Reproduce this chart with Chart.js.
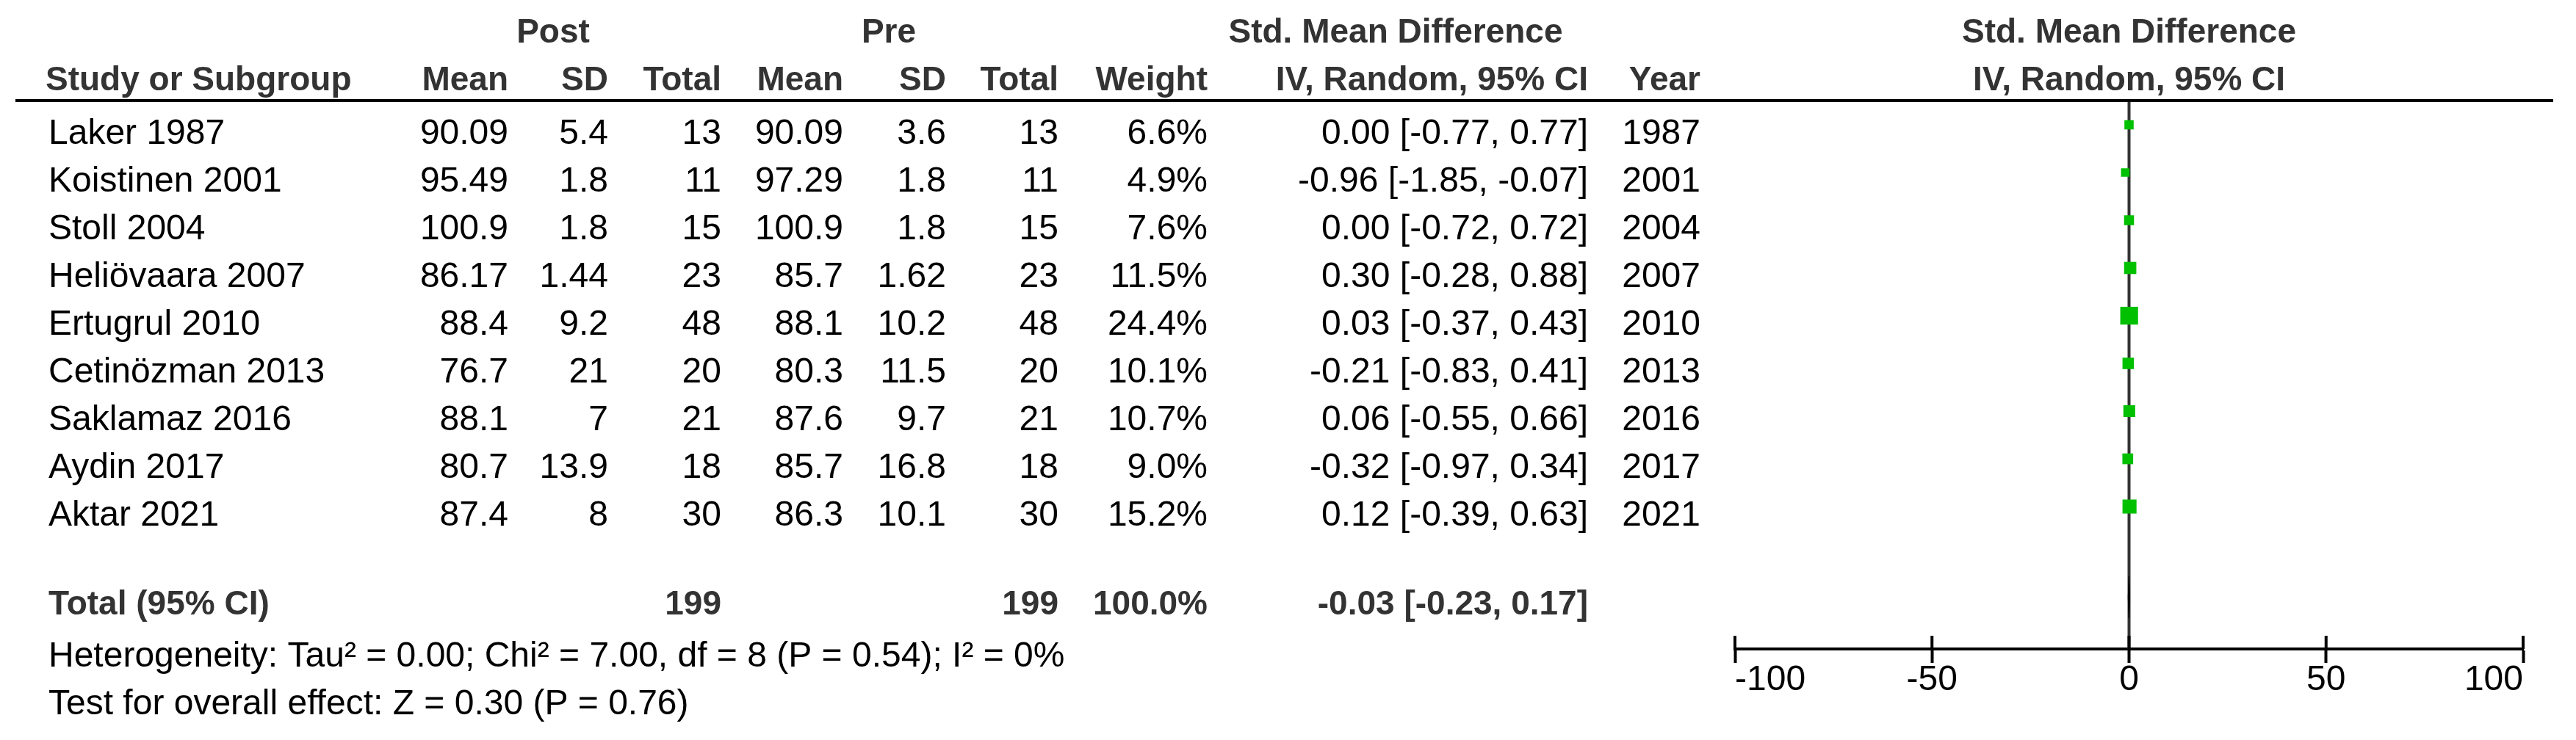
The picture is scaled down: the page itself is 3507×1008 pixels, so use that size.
<!DOCTYPE html>
<html>
<head>
<meta charset="utf-8">
<title>Forest plot - Std. Mean Difference</title>
<script src="https://cdn.jsdelivr.net/npm/chart.js@4.4.1/dist/chart.umd.min.js"></script>
<style>
  html, body { margin: 0; padding: 0; background: #fff; }
  #wrap { width: 3507px; height: 1008px; position: relative; }
</style>
</head>
<body>
<div id="wrap"><canvas id="forest"></canvas></div>
<script>
// Study data
const studies = ['Laker 1987', 'Koistinen 2001', 'Stoll 2004', 'Heliövaara 2007', 'Ertugrul 2010',
                 'Cetinözman 2013', 'Saklamaz 2016', 'Aydin 2017', 'Aktar 2021'];
const postMean = [90.09, 95.49, 100.9, 86.17, 88.4, 76.7, 88.1, 80.7, 87.4];
const postSD = [5.4, 1.8, 1.8, 1.44, 9.2, 21, 7, 13.9, 8];
const postTotal = [13, 11, 15, 23, 48, 20, 21, 18, 30];
const preMean = [90.09, 97.29, 100.9, 85.7, 88.1, 80.3, 87.6, 85.7, 86.3];
const preSD = [3.6, 1.8, 1.8, 1.62, 10.2, 11.5, 9.7, 16.8, 10.1];
const preTotal = [13, 11, 15, 23, 48, 20, 21, 18, 30];
const weights = [6.6, 4.9, 7.6, 11.5, 24.4, 10.1, 10.7, 9.0, 15.2];
const smd = [0.00, -0.96, 0.00, 0.30, 0.03, -0.21, 0.06, -0.32, 0.12];
const ciLow = [-0.77, -1.85, -0.72, -0.28, -0.37, -0.83, -0.55, -0.97, -0.39];
const ciHigh = [0.77, -0.07, 0.72, 0.88, 0.43, 0.41, 0.66, 0.34, 0.63];
const years = [1987, 2001, 2004, 2007, 2010, 2013, 2016, 2017, 2021];

// Pooled result
const totalPost = 199;
const totalPre = 199;
const totalWeight = 100.0;
const totalSmd = -0.03;
const totalLow = -0.23;
const totalHigh = 0.17;
const heterogeneity = 'Heterogeneity: Tau² = 0.00; Chi² = 7.00, df = 8 (P = 0.54); I² = 0%';
const overallTest = 'Test for overall effect: Z = 0.30 (P = 0.76)';

const xTicks = [-100, -50, 0, 50, 100];

// Row layout (in row units on the y scale)
const totalRow = 9.9;
const hetRow = 10.95;
const testRow = 11.95;

const GREEN = '#00c000';
const FONT = '"Liberation Sans", Arial, sans-serif';

function squareSide(w) {
    return Math.max(11.5, 4.9 * Math.sqrt(w));
}

function ciText(m, lo, hi) {
    return m.toFixed(2) + ' [' + lo.toFixed(2) + ', ' + hi.toFixed(2) + ']';
}

// Confidence interval lines, one dataset per study
const ciSets = studies.map((s, i) => ({
    label: 'CI ' + s,
    data: [{ x: ciLow[i], y: i }, { x: ciHigh[i], y: i }],
    showLine: true,
    borderColor: '#333',
    borderWidth: 3,
    pointRadius: 0,
    order: 2
}));

const squareSet = {
    label: 'SMD',
    data: smd.map((v, i) => ({ x: v, y: i })),
    pointStyle: 'rect',
    pointRadius: c => squareSide(weights[c.dataIndex]) / Math.SQRT2,
    pointHoverRadius: c => squareSide(weights[c.dataIndex]) / Math.SQRT2,
    backgroundColor: GREEN,
    pointBorderWidth: 0,
    order: 1
};

const diamondSet = {
    label: 'Total',
    data: [
        { x: totalLow, y: totalRow },
        { x: totalSmd, y: totalRow - 0.44 },
        { x: totalHigh, y: totalRow },
        { x: totalSmd, y: totalRow + 0.44 },
        { x: totalLow, y: totalRow }
    ],
    showLine: true,
    fill: 'shape',
    borderColor: '#000',
    backgroundColor: '#000',
    borderWidth: 1,
    pointRadius: 0,
    order: 0
};

// Zero line and upper half of the axis ticks
const referencePlugin = {
    id: 'reference',
    beforeDatasetsDraw(chart) {
        const { ctx, chartArea, scales } = chart;
        const x0 = scales.x.getPixelForValue(0);
        ctx.save();
        ctx.strokeStyle = '#333';
        ctx.lineWidth = 4;
        ctx.beginPath();
        ctx.moveTo(x0, chartArea.top);
        ctx.lineTo(x0, chartArea.bottom);
        ctx.stroke();
        ctx.strokeStyle = '#000';
        xTicks.forEach(v => {
            const px = scales.x.getPixelForValue(v);
            ctx.beginPath();
            ctx.moveTo(px, chartArea.bottom - 18);
            ctx.lineTo(px, chartArea.bottom);
            ctx.stroke();
        });
        ctx.restore();
    }
};

// Table text drawn next to the plot
const tablePlugin = {
    id: 'table',
    afterDraw(chart) {
        const { ctx, scales, chartArea } = chart;
        const y = scales.y;
        const rowY = r => y.getPixelForValue(r) + 26;

        function txt(s, x, yy, align, bold) {
            ctx.font = (bold ? 'bold 46px ' : '48px ') + FONT;
            ctx.fillStyle = bold ? '#333' : '#000';
            ctx.textAlign = align;
            ctx.textBaseline = 'alphabetic';
            ctx.fillText(String(s), x, yy);
        }

        ctx.save();

        // Headers
        txt('Post', 753, 58, 'center', true);
        txt('Pre', 1210, 58, 'center', true);
        txt('Std. Mean Difference', 1900, 58, 'center', true);
        txt('Std. Mean Difference', scales.x.getPixelForValue(0), 58, 'center', true);

        txt('Study or Subgroup', 62, 123, 'left', true);
        txt('Mean', 692, 123, 'right', true);
        txt('SD', 828, 123, 'right', true);
        txt('Total', 982, 123, 'right', true);
        txt('Mean', 1148, 123, 'right', true);
        txt('SD', 1288, 123, 'right', true);
        txt('Total', 1441, 123, 'right', true);
        txt('Weight', 1644, 123, 'right', true);
        txt('IV, Random, 95% CI', 2162, 123, 'right', true);
        txt('Year', 2315, 123, 'right', true);
        txt('IV, Random, 95% CI', scales.x.getPixelForValue(0), 123, 'center', true);

        // Rule under header
        ctx.strokeStyle = '#000';
        ctx.lineWidth = 4;
        ctx.beginPath();
        ctx.moveTo(21, chartArea.top);
        ctx.lineTo(3476, chartArea.top);
        ctx.stroke();

        // Study rows
        studies.forEach((s, i) => {
            const yy = rowY(i);
            txt(s, 66, yy, 'left', false);
            txt(postMean[i], 692, yy, 'right', false);
            txt(postSD[i], 828, yy, 'right', false);
            txt(postTotal[i], 982, yy, 'right', false);
            txt(preMean[i], 1148, yy, 'right', false);
            txt(preSD[i], 1288, yy, 'right', false);
            txt(preTotal[i], 1441, yy, 'right', false);
            txt(weights[i].toFixed(1) + '%', 1644, yy, 'right', false);
            txt(ciText(smd[i], ciLow[i], ciHigh[i]), 2162, yy, 'right', false);
            txt(years[i], 2315, yy, 'right', false);
        });

        // Total row
        const ty = rowY(totalRow) - 3;
        txt('Total (95% CI)', 66, ty, 'left', true);
        txt(totalPost, 982, ty, 'right', true);
        txt(totalPre, 1441, ty, 'right', true);
        txt(totalWeight.toFixed(1) + '%', 1644, ty, 'right', true);
        txt(ciText(totalSmd, totalLow, totalHigh), 2162, ty, 'right', true);

        // Footer
        txt(heterogeneity, 66, rowY(hetRow), 'left', false);
        txt(overallTest, 66, rowY(testRow), 'left', false);

        ctx.restore();
    }
};

document.addEventListener('DOMContentLoaded', () => {
    Chart.defaults.font.family = FONT;
    const ctx = document.getElementById('forest').getContext('2d');
    new Chart(ctx, {
        type: 'scatter',
        data: { datasets: [squareSet, diamondSet, ...ciSets] },
        options: {
            responsive: true,
            maintainAspectRatio: false,
            animation: false,
            layout: { padding: { left: 2362, right: 72, top: 137, bottom: 0 } },
            plugins: {
                legend: { display: false },
                tooltip: { enabled: false }
            },
            scales: {
                x: {
                    type: 'linear',
                    min: -100,
                    max: 100,
                    afterBuildTicks: s => { s.ticks = xTicks.map(v => ({ value: v })); },
                    afterFit: s => { s.height = 124; },
                    grid: {
                        drawOnChartArea: false,
                        drawTicks: true,
                        tickLength: 19,
                        tickWidth: 4,
                        tickColor: '#000'
                    },
                    border: { display: true, color: '#000', width: 4 },
                    ticks: {
                        align: 'inner',
                        padding: -5,
                        color: '#000',
                        font: { size: 48, family: FONT },
                        maxRotation: 0,
                        autoSkip: false
                    }
                },
                y: {
                    type: 'linear',
                    display: false,
                    reverse: true,
                    min: -33 / 65,
                    max: 714 / 65
                }
            }
        },
        plugins: [referencePlugin, tablePlugin]
    });
});
</script>
</body>
</html>
